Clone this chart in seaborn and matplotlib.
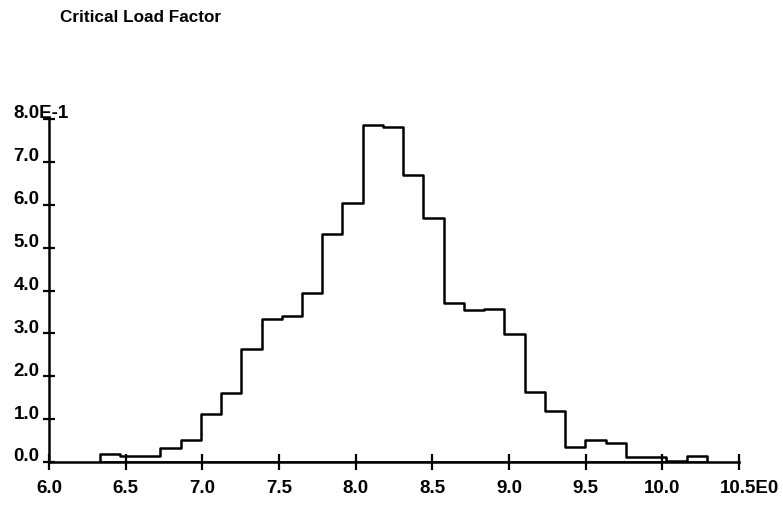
import numpy as np
import matplotlib
matplotlib.use("Agg")
import matplotlib.pyplot as plt
import matplotlib.transforms as mtransforms
import pandas as pd
import seaborn as sns

# bin edges of the histogram (30 equal bins)
bin_edges = list(np.linspace(6.33, 10.29, 31))

# bar heights (relative frequency)
heights = [0.019, 0.013, 0.013, 0.033, 0.051, 0.111, 0.161, 0.264, 0.333, 0.341,
           0.395, 0.531, 0.603, 0.786, 0.781, 0.669, 0.568, 0.372, 0.354, 0.357,
           0.298, 0.163, 0.120, 0.034, 0.052, 0.045, 0.012, 0.012, 0.003, 0.013]

x_ticks = [6.0, 6.5, 7.0, 7.5, 8.0, 8.5, 9.0, 9.5, 10.0, 10.5]
x_labels = ["6.0", "6.5", "7.0", "7.5", "8.0", "8.5", "9.0", "9.5", "10.0", "10.5E0"]
y_ticks = [0.0, 0.1, 0.2, 0.3, 0.4, 0.5, 0.6, 0.7, 0.8]
y_labels = ["0.0", "1.0", "2.0", "3.0", "4.0", "5.0", "6.0", "7.0", "8.0E-1"]

title = "Critical Load Factor"

sns.set_style("white")
plt.rcParams["font.family"] = ["Liberation Sans", "DejaVu Sans"]
plt.rcParams["text.color"] = "black"

fig = plt.figure(figsize=(7.83, 5.06), dpi=100)
ax = fig.add_axes([49 / 783, 43 / 506, 690 / 783, 343 / 506])
ax.set_axisbelow(False)

df = pd.DataFrame({
    "centro": [(a + b) / 2 for a, b in zip(bin_edges[:-1], bin_edges[1:])],
    "altura": heights,
})
sns.histplot(data=df, x="centro", weights="altura", bins=bin_edges, element="step",
             fill=True, color="black", facecolor="white", edgecolor="black",
             alpha=1, linewidth=1.8, ax=ax)

ax.set_xlim(6.0, 10.5)
ax.set_ylim(0, 0.8)
ax.set_xlabel("")
ax.set_ylabel("")

for side in ["top", "right"]:
    ax.spines[side].set_visible(False)
for side in ["left", "bottom"]:
    ax.spines[side].set_linewidth(1.8)
    ax.spines[side].set_color("black")

ax.set_xticks(x_ticks)
ax.set_xticklabels(x_labels, fontsize=13.5, fontweight="bold")
ax.set_yticks(y_ticks)
ax.set_yticklabels(y_labels, fontsize=13.5, fontweight="bold")

ax.tick_params(axis="x", bottom=True, direction="inout", length=11, width=1.6,
               pad=7, color="black", labelcolor="black")
ax.tick_params(axis="y", left=True, direction="inout", length=9, width=1.6,
               pad=21, color="black", labelcolor="black")

# y labels sit left-aligned and a little above their ticks
up = mtransforms.ScaledTranslation(0, 8 / 100, fig.dpi_scale_trans)
for lbl in ax.get_yticklabels():
    lbl.set_ha("left")
    lbl.set_transform(lbl.get_transform() + up)

# the last x label is anchored on its number part
last = ax.get_xticklabels()[-1]
last.set_ha("left")
last.set_transform(last.get_transform() +
                   mtransforms.ScaledTranslation(-19 / 100, 0, fig.dpi_scale_trans))

fig.text(60 / 783, 1 - 17 / 506, title, fontsize=12.3, fontweight="bold",
         color="black", ha="left", va="center")

fig.savefig("out.png", dpi=100)
